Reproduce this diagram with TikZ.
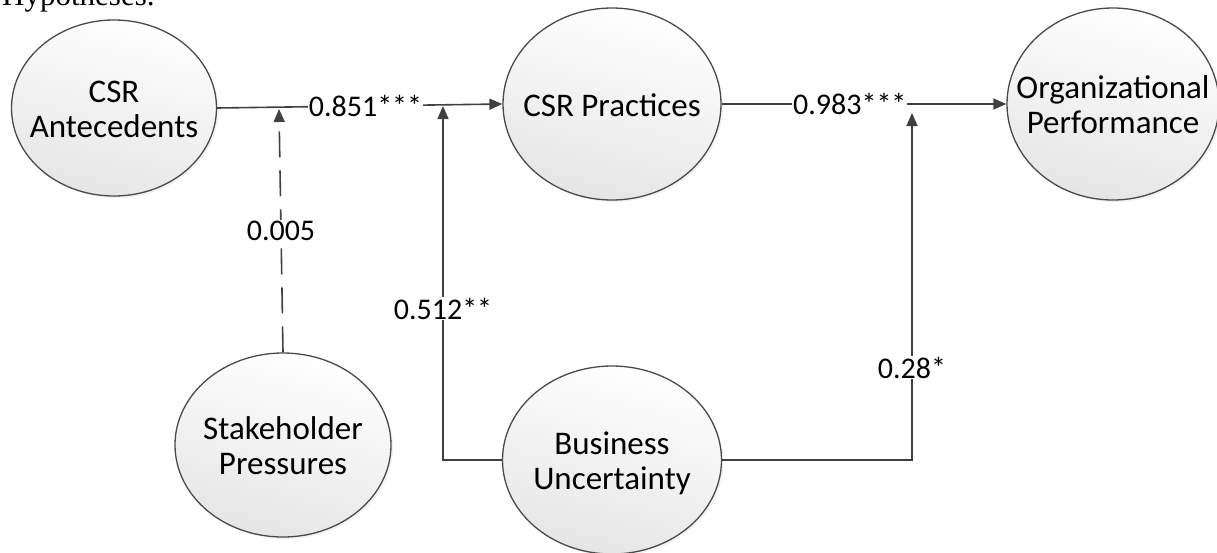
\documentclass[tikz,border=0pt]{standalone}
\usepackage{fontspec}
\setmainfont{Carlito}
\newfontfamily\serifpart{Liberation Serif}
\usetikzlibrary{shapes.geometric,arrows.meta,shadows}
\definecolor{linecol}{HTML}{404040}
\definecolor{edgecol}{HTML}{4A4A4A}
\newcommand{\ctext}[1]{\raisebox{0pt}[\dimexpr\height+10pt\relax][\depth]{\makebox[0pt][c]{\begin{tabular}{@{}c@{}}#1\end{tabular}}}}
\tikzset{
  construct/.style={ellipse, draw=edgecol, line width=1.3pt, inner sep=0pt,
    shade, top color=white, bottom color=black!10, shading angle=-15,
    drop shadow={opacity=0.10, shadow xshift=2pt, shadow yshift=-2pt},
    font=\fontsize{33}{35}\selectfont},
  path/.style={draw=linecol, line width=1.6pt, -{Triangle[length=13pt,width=11pt]}},
  coef/.style={fill=white, inner sep=1pt, font=\fontsize{30}{32}\selectfont}
}
\begin{document}
\begin{tikzpicture}[x=1pt,y=-1pt]
\useasboundingbox (0,0) rectangle (1217,552);
\begin{scope}
\clip (0,0) rectangle (1217,552);
\node[anchor=base west, inner sep=0pt, font=\serifpart\fontsize{31}{33}\selectfont] (hyp) at (2,5) {Hypotheses.};
\end{scope}
% constructs
\node[construct, minimum width=205pt, minimum height=176pt] (ant) at (114,108) {\ctext{CSR\\Antecedents}};
\node[construct, minimum width=218pt, minimum height=192pt] (prac) at (612,104) {\ctext{CSR Practices}};
\node[construct, minimum width=212pt, minimum height=192pt] (op) at (1113,104) {\ctext{Organizational\\Performance}};
\node[construct, minimum width=216pt, minimum height=184pt] (sh) at (283,445) {\ctext{Stakeholder\\Pressures}};
\node[construct, minimum width=219pt, minimum height=188pt] (bu) at (612,460) {\ctext{Business\\Uncertainty}};
% moderation targets
\coordinate (m1) at (279,109);
\coordinate (m2) at (443,106);
\coordinate (m3) at (912,113);
% main paths
\draw[path] (ant.east) -- node[coef, pos=0.52] (l1) {0.851***} (prac.west);
\draw[path] (prac.east) -- node[coef, pos=0.45] (l2) {0.983***} (op.west);
% moderators
\draw[path, dash pattern=on 26pt off 13pt] (sh.north) -- node[coef, pos=0.5] (l3) {0.005} (m1);
\draw[path] (bu.west) -| node[coef, pos=0.714] (l4) {0.512**} (m2);
\draw[path] (bu.east) -| node[coef, pos=0.633] (l5) {0.28*} (m3);
\end{tikzpicture}
\end{document}
